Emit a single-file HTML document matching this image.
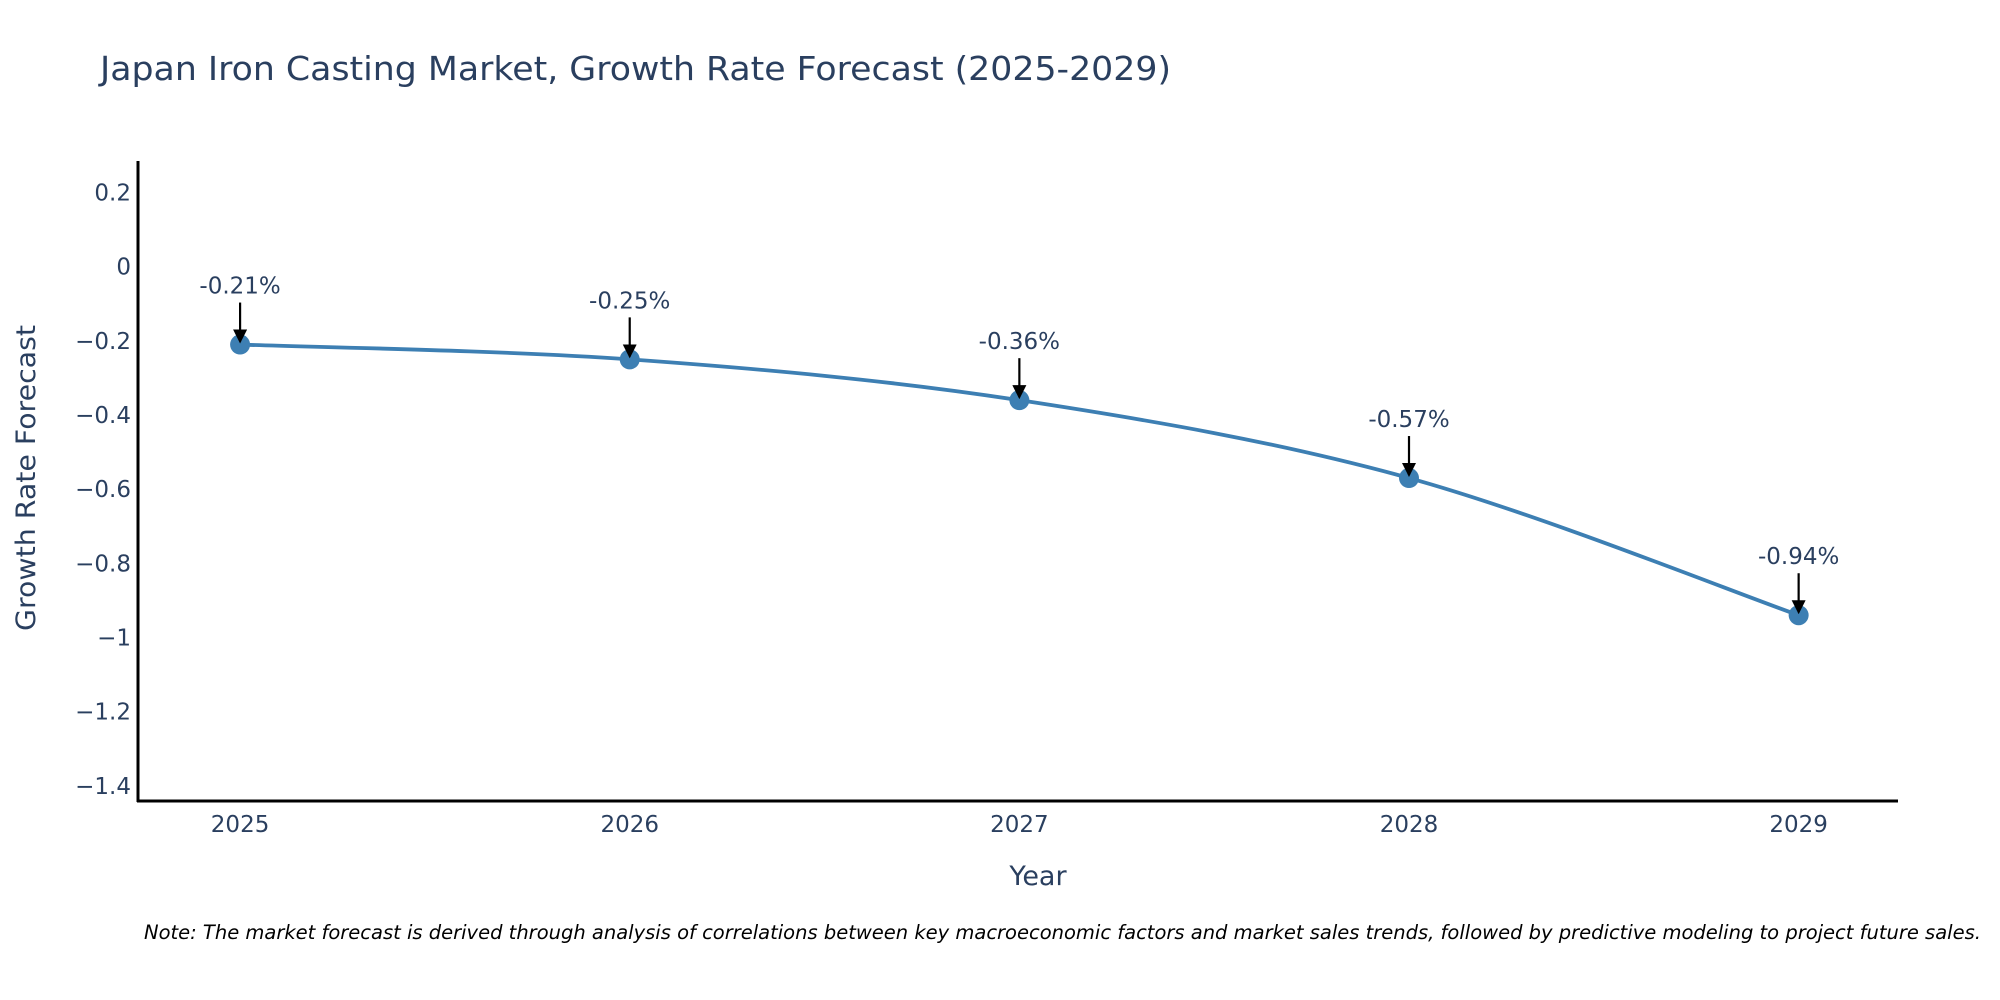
<!DOCTYPE html>
<html><head><meta charset="utf-8"><style>
body{margin:0;background:#fff;}
svg{display:block;font-family:"DejaVu Sans","Liberation Sans",sans-serif;}
</style></head><body>
<svg id="chart" width="2000" height="1000">
<rect width="2000" height="1000" fill="#fff"/>
<text x="100" y="80" font-size="33" fill="#2a3f5f" textLength="1071" lengthAdjust="spacingAndGlyphs">Japan Iron Casting Market, Growth Rate Forecast (2025-2029)</text>
<g id="yticks"></g>
<g id="xticks"></g>
<line x1="138" y1="161" x2="138" y2="802" stroke="#000" stroke-width="3"/>
<line x1="137" y1="801" x2="1898" y2="801" stroke="#000" stroke-width="3"/>
<path id="line" fill="none" stroke="#3d7fb3" stroke-width="3.8"/>
<g id="points"></g>
<g id="annots"></g>
<text x="35" y="478" font-size="27" fill="#2a3f5f" text-anchor="middle" textLength="306" lengthAdjust="spacingAndGlyphs" transform="rotate(-90 35 478)">Growth Rate Forecast</text>
<text x="1038" y="885" font-size="27" fill="#2a3f5f" text-anchor="middle">Year</text>
<text x="144" y="939" font-size="19.5" font-style="italic" fill="#000">Note: The market forecast is derived through analysis of correlations between key macroeconomic factors and market sales trends, followed by predictive modeling to project future sales.</text>
<defs><marker id="ah" markerWidth="14" markerHeight="14" refX="12" refY="7" orient="auto" markerUnits="userSpaceOnUse" viewBox="0 0 14 14"><path d="M0,0 L14,7 L0,14 z" fill="#000"/></marker></defs>
</svg>
<script>
const years = [2025, 2026, 2027, 2028, 2029];
const values = [-0.21, -0.25, -0.36, -0.57, -0.94];
const labels = ["-0.21%", "-0.25%", "-0.36%", "-0.57%", "-0.94%"];
const yTicks = [0.2, 0, -0.2, -0.4, -0.6, -0.8, -1, -1.2, -1.4];
const yTickLabels = ["0.2", "0", "\u22120.2", "\u22120.4", "\u22120.6", "\u22120.8", "\u22121", "\u22121.2", "\u22121.4"];

const NS = "http://www.w3.org/2000/svg";
const X0 = 138, X1 = 1898, Y0 = 801, Y1 = 161;
const xMin = 2024.738, xMax = 2029.255, yMin = -1.441, yMax = 0.285;
const xs = v => X0 + (v - xMin) / (xMax - xMin) * (X1 - X0);
const ys = v => Y0 - (v - yMin) / (yMax - yMin) * (Y0 - Y1);
function mk(tag, attrs, parent, txt) {
  const e = document.createElementNS(NS, tag);
  for (const k in attrs) e.setAttribute(k, attrs[k]);
  if (txt !== undefined) e.textContent = txt;
  parent.appendChild(e);
  return e;
}
const yg = document.getElementById("yticks");
yTicks.forEach((t, i) => {
  const e = mk("text", {x: 131, y: ys(t) + 8, "font-size": 23, fill: "#2a3f5f", "text-anchor": "end"}, yg, yTickLabels[i]);
  
  
});
const xg = document.getElementById("xticks");
years.forEach(y => {
  const e = mk("text", {x: xs(y), y: 832, "font-size": 23, fill: "#2a3f5f", "text-anchor": "middle"}, xg, String(y));
  
  
});
const pts = years.map((y, i) => [xs(y), ys(values[i])]);
let d = "M" + pts[0][0] + "," + pts[0][1];
const s = 1 / 6;
for (let i = 0; i < pts.length - 1; i++) {
  const p0 = pts[Math.max(i - 1, 0)], p1 = pts[i], p2 = pts[i + 1], p3 = pts[Math.min(i + 2, pts.length - 1)];
  const c1 = [p1[0] + (p2[0] - p0[0]) * s, p1[1] + (p2[1] - p0[1]) * s];
  const c2 = [p2[0] - (p3[0] - p1[0]) * s, p2[1] - (p3[1] - p1[1]) * s];
  d += " C" + c1.join(",") + " " + c2.join(",") + " " + p2.join(",");
}
document.getElementById("line").setAttribute("d", d);
const pg = document.getElementById("points");
const ag = document.getElementById("annots");
pts.forEach((p, i) => {
  const c = mk("circle", {cx: p[0], cy: p[1], r: 10, fill: "#3d7fb3"}, pg);
  
  
  const a = mk("line", {x1: p[0], y1: p[1] - 42, x2: p[0], y2: p[1] - 3, stroke: "#000", "stroke-width": 2.2, "marker-end": "url(#ah)"}, ag);
  
  
  const t = mk("text", {x: p[0], y: p[1] - 51, "font-size": 23, fill: "#2a3f5f", "text-anchor": "middle"}, ag, labels[i]);
  
  
});
</script>
</body></html>
